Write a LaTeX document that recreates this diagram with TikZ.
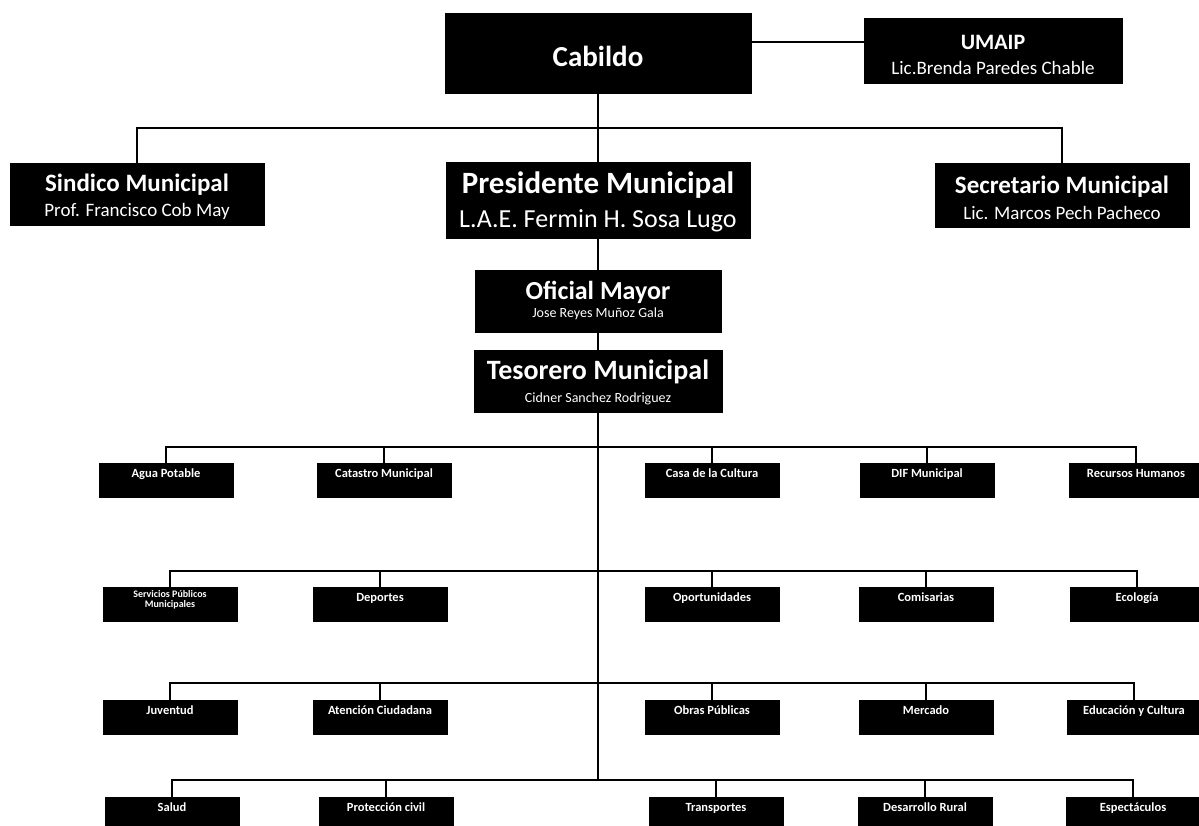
\documentclass[tikz,border=0pt]{standalone}
\usepackage{fontspec}
\setmainfont{Carlito}
\newcommand\myfs[1]{\fontsize{#1}{#1}\selectfont}
\begin{document}
\begin{tikzpicture}[x=1pt,y=-1pt]
\tikzset{
  box/.style={fill=black, draw=black, line width=0.5pt, inner sep=0pt},
  ttl/.style={text=white, inner sep=0pt, font=\bfseries},
  subt/.style={text=white, inner sep=0pt},
  lnk/.style={draw=black, line width=2pt},
  sbox/.style={box, minimum width=134pt, minimum height=34pt},
  stxt/.style={text=white, inner sep=0pt, align=center, font=\bfseries\myfs{12.5}},
}
\useasboundingbox (0,0) rectangle (1199,825);

% top level boxes
\node[box, minimum width=306pt, minimum height=80pt] (cab) at (598,53) {};
\node[ttl, font=\bfseries\myfs{29}] (cabt) at (598,56) {Cabildo};

\node[box, minimum width=258pt, minimum height=65pt] (uma) at (993,50.5) {};
\node[ttl, font=\bfseries\myfs{22}] (umat) at (993,42) {UMAIP};
\node[subt, font=\myfs{19}] (umas) at (993,68) {Lic.Brenda Paredes Chable};

\node[box, minimum width=254pt, minimum height=62pt] (sind) at (137,194) {};
\node[ttl, font=\bfseries\myfs{25}] (sindt) at (137,185) {Sindico Municipal};
\node[subt, font=\myfs{19}] (sinds) at (137,211) {Prof. Francisco Cob May};

\node[box, minimum width=304pt, minimum height=76pt] (pres) at (598,200) {};
\node[ttl, font=\bfseries\myfs{31}] (prest) at (598,185) {Presidente Municipal};
\node[subt, font=\myfs{26}] (press) at (598,221) {L.A.E. Fermin H. Sosa Lugo};

\node[box, minimum width=254pt, minimum height=64pt] (sec) at (1062,195) {};
\node[ttl, font=\bfseries\myfs{25}] (sect) at (1062,187) {Secretario Municipal};
\node[subt, font=\myfs{19}] (secs) at (1062,213) {Lic. Marcos Pech Pacheco};

\node[box, minimum width=246pt, minimum height=62pt] (ofi) at (598,301) {};
\node[ttl, font=\bfseries\myfs{26}] (ofit) at (598,292) {Oficial Mayor};
\node[subt, font=\myfs{14}] (ofis) at (598,314) {Jose Reyes Muñoz Gala};

\node[box, minimum width=248pt, minimum height=62pt] (tes) at (598,381) {};
\node[ttl, font=\bfseries\myfs{28}] (test) at (598,372) {Tesorero Municipal};
\node[subt, font=\myfs{14}] (tess) at (598,399) {Cidner Sanchez Rodriguez};

% upper connectors
\coordinate (cabr) at ([yshift=11pt]cab.east);
\draw[lnk] (cabr) -- (cabr -| uma.west);
\coordinate (bus0) at (598,128);
\draw[lnk] (cab.south) -- (pres.north);
\draw[lnk] (sind.north) -- (sind.north |- bus0) -- (sec.north |- bus0) -- (sec.north);
\draw[lnk] (pres.south) -- (ofi.north);
\draw[lnk] (ofi.south) -- (tes.north);
\coordinate (spine) at (598,780);
\draw[lnk] (tes.south) -- (spine);

% small boxes
\newcommand\mkbox[4]{%
  \node[sbox] (#1) at (#2,#3) {};
  \node[stxt, anchor=north] (#1t) at ([yshift=-6pt]#1.north) {#4};}

% row 1
\mkbox{r1a}{166}{480}{Agua Potable}
\mkbox{r1b}{384}{480}{Catastro Municipal}
\mkbox{r1c}{712}{480}{Casa de la Cultura}
\mkbox{r1d}{927}{480}{DIF Municipal}
\mkbox{r1e}{1136}{480}{Recursos Humanos}
% row 2
\node[sbox] (r2a) at (170,604) {};
\node[stxt, anchor=north, font=\bfseries\myfs{10}] (r2at) at ([yshift=-4pt]r2a.north) {Servicios Públicos\\Municipales};
\mkbox{r2b}{380}{604}{Deportes}
\mkbox{r2c}{712}{604}{Oportunidades}
\mkbox{r2d}{926}{604}{Comisarias}
\mkbox{r2e}{1137}{604}{Ecología}
% row 3
\mkbox{r3a}{170}{717}{Juventud}
\mkbox{r3b}{380}{717}{Atención Ciudadana}
\mkbox{r3c}{712}{717}{Obras Públicas}
\mkbox{r3d}{926}{717}{Mercado}
\mkbox{r3e}{1134}{717}{Educación y Cultura}
% row 4
\mkbox{r4a}{172}{814}{Salud}
\mkbox{r4b}{386}{814}{Protección civil}
\mkbox{r4c}{716}{814}{Transportes}
\mkbox{r4d}{925}{814}{Desarrollo Rural}
\mkbox{r4e}{1133}{814}{Espectáculos}

% row buses
\coordinate (bus1) at (598,447);
\coordinate (bus2) at (598,571);
\coordinate (bus3) at (598,683);
\coordinate (bus4) at (598,780);
\foreach \r in {1,2,3,4}{
  \draw[lnk] (r\r a.north) -- (r\r a.north |- bus\r) -- (r\r e.north |- bus\r) -- (r\r e.north);
  \draw[lnk] (r\r b.north) -- (r\r b.north |- bus\r);
  \draw[lnk] (r\r c.north) -- (r\r c.north |- bus\r);
  \draw[lnk] (r\r d.north) -- (r\r d.north |- bus\r);
}
\end{tikzpicture}
\end{document}
